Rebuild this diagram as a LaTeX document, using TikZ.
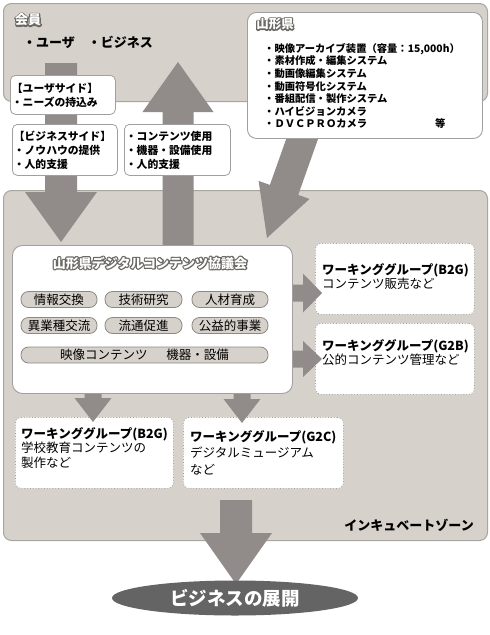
\documentclass[tikz,border=0pt]{standalone}
\usepackage{fontspec}
\setmainfont{Noto Sans CJK JP}
\usetikzlibrary{calc,shapes.geometric}
\definecolor{panel}{HTML}{D6D1CA}
\definecolor{panelline}{HTML}{A9A59F}
\definecolor{arrowc}{HTML}{918C89}
\definecolor{boxline}{HTML}{A0A0A0}
\definecolor{pilline}{HTML}{8C8884}
\definecolor{ellc}{HTML}{646464}
\newcommand\otext[1]{\makebox[0pt][l]{\special{pdf:literal direct 1 Tr 2.4 w 1 j 0.42 0.41 0.39 RG}#1\special{pdf:literal direct 0 Tr 0.4 w 0 j}}\textcolor{white}{#1}}
\newcommand\fsz[2]{\fontsize{#1}{#2}\selectfont}
\newcommand\blockarrow[5]{%
 \coordinate (ba) at ($(#2)!#5pt!(#1)$);
 \fill[arrowc] ($(#1)!#3pt!90:(#2)$) -- ($(ba)!#3pt!90:(#2)$) -- ($(ba)!#4pt!90:(#2)$) -- (#2) -- ($(ba)!#4pt!-90:(#2)$) -- ($(ba)!#3pt!-90:(#2)$) -- ($(#1)!#3pt!-90:(#2)$) -- cycle;}
\begin{document}
\begin{tikzpicture}[x=1pt,y=-1pt,
  panelbox/.style={draw=panelline, fill=panel, line width=1pt, rounded corners=8pt, inner sep=0pt},
  whitebox/.style={draw=boxline, fill=white, line width=0.9pt, rounded corners=9pt, inner sep=0pt},
  tbox/.style={draw=boxline, fill=white, line width=0.8pt, rounded corners=5pt, inner xsep=1.5pt, inner ysep=0pt, align=left, font=\bfseries\fsz{10.8}{14}, anchor=north west},
  wgbox/.style={draw=boxline, fill=white, line width=0.8pt, dotted, rounded corners=6pt, inner sep=0pt, minimum width=159pt, minimum height=71pt, anchor=north west},
  wgtext/.style={anchor=north west, align=left, inner sep=0pt},
  pill/.style={draw=pilline, fill=panel, line width=0.8pt, rounded corners=7.5pt, minimum height=16pt, inner sep=0pt, font=\fsz{12.5}{14}},
  lbl/.style={inner sep=0pt}]
\useasboundingbox (0,0) rectangle (490,635);
\fill[white] (0,0) rectangle (490,635);
% panels
\node[panelbox, minimum width=484pt, minimum height=98pt, anchor=north west] (top) at (3,3) {};
\node[panelbox, minimum width=484pt, minimum height=350pt, anchor=north west] (zone) at (3,190) {};
% working group boxes
\node[wgbox] (wg1) at (315,243) {};
\node[wgbox] (wg2) at (315,323) {};
\node[wgbox, minimum width=158pt] (wg3) at (15,417) {};
\node[wgbox, minimum width=160pt] (wg4) at (183,417) {};
% arrows
\coordinate (a1s) at (61,63);   \coordinate (a1t) at (61,242);
\coordinate (a2s) at (178,250); \coordinate (a2t) at (178,62);
\coordinate (a3s) at (306,128); \coordinate (a3t) at (267,238);
\coordinate (a4s) at (285,293); \coordinate (a4t) at (322,293);
\coordinate (a5s) at (285,359); \coordinate (a5t) at (322,359);
\coordinate (a6s) at (93,385);  \coordinate (a6t) at (93,422);
\coordinate (a7s) at (242,385); \coordinate (a7t) at (242,423);
\coordinate (a8s) at (236,500); \coordinate (a8t) at (236,584);
\blockarrow{a1s}{a1t}{16}{36}{50}
\blockarrow{a2s}{a2t}{15.5}{35.5}{50}
\blockarrow{a3s}{a3t}{15}{27}{51}
\blockarrow{a4s}{a4t}{8.5}{19.5}{19}
\blockarrow{a5s}{a5t}{8.5}{18}{19}
\blockarrow{a6s}{a6t}{8.5}{18.5}{24}
\blockarrow{a7s}{a7t}{8.5}{18.5}{24}
\blockarrow{a8s}{a8t}{16}{36}{51}
% council box
\node[whitebox, rounded corners=10pt, minimum width=280pt, minimum height=148pt, anchor=north west] (council) at (12,245) {};
\node[lbl, font=\bfseries\fsz{13}{15}] (ctitle) at (150,263) {\otext{山形県デジタルコンテンツ協議会}};
\node[pill, minimum width=76pt] (p1) at (59,299.5) {情報交換};
\node[pill, minimum width=77pt] (p2) at (143.5,299.5) {技術研究};
\node[pill, minimum width=76pt] (p3) at (230,299.5) {人材育成};
\node[pill, minimum width=76pt] (p4) at (59,325.5) {異業種交流};
\node[pill, minimum width=77pt] (p5) at (143.5,325.5) {流通促進};
\node[pill, minimum width=76pt] (p6) at (230,325.5) {公益的事業};
\node[pill, minimum width=247pt] (p7) at (144.5,355) {映像コンテンツ\hspace{1.5em}機器・設備};
% prefecture box
\node[whitebox, minimum width=235pt, minimum height=126pt, anchor=north west] (pref) at (247,12) {};
\node[lbl, font=\bfseries\fsz{12.5}{14}] (preft) at (275,24) {\otext{山形県}};
\node[wgtext, font=\bfseries\fsz{10.3}{12.6}] (preflist) at (264,43) {・映像アーカイブ装置（容量：15,000h）\\・素材作成・編集システム\\・動画像編集システム\\・動画符号化システム\\・番組配信・製作システム\\・ハイビジョンカメラ\\・ＤＶＣＰＲＯカメラ\hspace{68pt}等};
% members
\node[lbl, anchor=west, font=\bfseries\fsz{13}{15}] (mem) at (15,20) {\otext{会員}};
\node[lbl, anchor=west, font=\bfseries\fsz{13}{15}] (memt) at (23,42) {・ユーザ　・ビジネス};
% text boxes
\node[tbox, text width=102pt, minimum height=39pt] (usr) at (10,75) {【ユーザサイド】\\・ニーズの持込み};
\node[tbox, text width=102pt, minimum height=51pt] (biz) at (12,124) {【ビジネスサイド】\\・ノウハウの提供\\・人的支援};
\node[tbox, text width=103pt, minimum height=51pt] (use) at (124,124) {・コンテンツ使用\\・機器・設備使用\\・人的支援};
% working group texts
\node[wgtext, font=\fsz{12.5}{14.5}] (wg1t) at (322,263) {{\bfseries ワーキンググループ(B2G)}\\コンテンツ販売など};
\node[wgtext, font=\fsz{12.5}{14.5}] (wg2t) at (322,339) {{\bfseries ワーキンググループ(G2B)}\\公的コンテンツ管理など};
\node[wgtext, font=\fsz{12.5}{14.5}] (wg3t) at (21,427) {{\bfseries ワーキンググループ(B2G)}\\学校教育コンテンツの\\製作など};
\node[wgtext, font=\fsz{12.5}{16.5}] (wg4t) at (190,430) {{\bfseries ワーキンググループ(G2C)}\\デジタルミュージアム\\など};
% zone label
\node[lbl, anchor=east, font=\bfseries\fsz{13}{15}] (zonet) at (474,525) {インキュベートゾーン};
% result
\node[ellipse, fill=ellc, minimum width=246pt, minimum height=35pt, inner sep=0pt, text=white, font=\bfseries\fsz{18.5}{20}] (result) at (235,598) {ビジネスの展開};
\end{tikzpicture}
\end{document}
